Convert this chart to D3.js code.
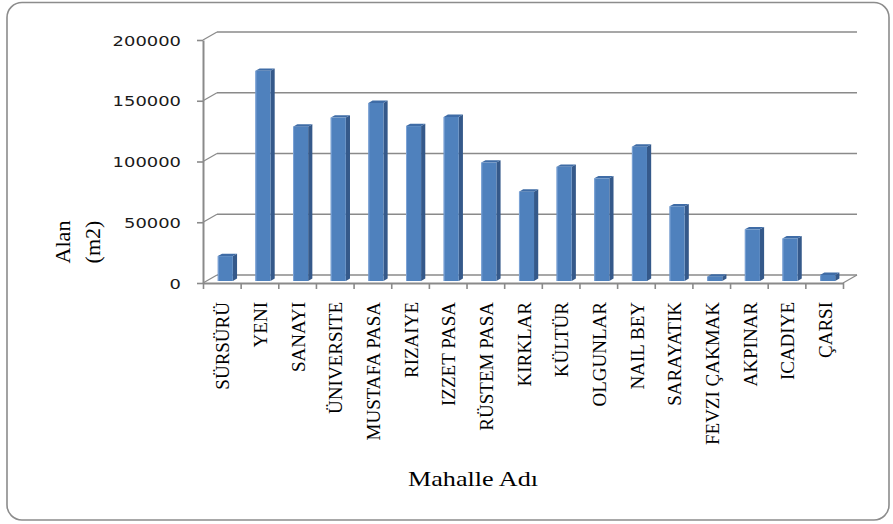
<!DOCTYPE html>
<html>
<head>
<meta charset="utf-8">
<script src="https://cdn.jsdelivr.net/npm/d3@7"></script>
<style>
  html, body { margin: 0; padding: 0; background: #ffffff; }
  svg { display: block; }
</style>
</head>
<body>
<svg id="chart" width="893" height="524"></svg>
<script>
// Neighbourhood areas (m2)
const categories = ["SÜRSÜRÜ", "YENI", "SANAYI", "ÜNIVERSITE", "MUSTAFA PASA", "RIZAIYE",
  "IZZET PASA", "RÜSTEM PASA", "KIRKLAR", "KÜLTÜR", "OLGUNLAR", "NAIL BEY",
  "SARAYATIK", "FEVZI ÇAKMAK", "AKPINAR", "ICADIYE", "ÇARSI"];
const areas = [20500, 173000, 127000, 134500, 146500, 127500,
  135000, 97500, 73500, 94000, 84500, 110500,
  61500, 3500, 42500, 35000, 5000];
const yTicks = [0, 50000, 100000, 150000, 200000];
const yTitleLines = ["Alan", "(m2)"];
const xTitle = "Mahalle Adı";

const svg = d3.select("#chart");

// Plot frame (front plane) and 3-D depth offset of the back wall
const plotLeft = 203, plotRight = 843, plotBottom = 283, plotTop = 40;
const depthX = 14, depthY = -8;

const y = d3.scaleLinear().domain([0, 200000]).range([plotBottom, plotTop]);
const x = d3.scaleBand().domain(categories).range([plotLeft, plotRight]).padding(0);
const edge = d3.scaleLinear().domain([0, categories.length]).range([plotLeft, plotRight]);

const gridColor = "#8a8a8a";

// outer rounded frame
svg.append("rect")
  .attr("x", 7).attr("y", 2.5).attr("width", 882).attr("height", 517.5)
  .attr("rx", 15).attr("ry", 15)
  .attr("fill", "#ffffff").attr("stroke", "#8c8c8c").attr("stroke-width", 1.6);

// back wall gridlines with their side-wall connectors
const grid = svg.append("g");
yTicks.forEach(v => {
  grid.append("line")
    .attr("x1", plotLeft + depthX).attr("x2", plotRight + depthX)
    .attr("y1", y(v) + depthY).attr("y2", y(v) + depthY)
    .attr("stroke", gridColor).attr("stroke-width", 1.6);
  grid.append("line")
    .attr("x1", plotLeft).attr("x2", plotLeft + depthX)
    .attr("y1", y(v)).attr("y2", y(v) + depthY)
    .attr("stroke", gridColor).attr("stroke-width", 1.3);
});

// floor: right edge
grid.append("line")
  .attr("x1", plotRight).attr("x2", plotRight + depthX)
  .attr("y1", y(0)).attr("y2", y(0) + depthY)
  .attr("stroke", gridColor).attr("stroke-width", 1.3);

// bars (3-D columns placed a quarter of the way into the depth)
const barW = x.bandwidth() * 0.4;
const off0 = 0.25, off1 = 0.55;
const bars = svg.append("g");
categories.forEach((c, i) => {
  const v = areas[i];
  const fx = x(c) + (x.bandwidth() - barW) / 2 + depthX * off0;
  const fy0 = y(0) + depthY * off0;
  const fy1 = y(v) + depthY * off0;
  const ddx = depthX * (off1 - off0), ddy = depthY * (off1 - off0);
  // side face
  bars.append("path")
    .attr("d", `M${fx + barW},${fy0} L${fx + barW + ddx},${fy0 + ddy} L${fx + barW + ddx},${fy1 + ddy} L${fx + barW},${fy1} Z`)
    .attr("fill", "#35598a");
  // top face
  bars.append("path")
    .attr("d", `M${fx},${fy1} L${fx + ddx},${fy1 + ddy} L${fx + barW + ddx},${fy1 + ddy} L${fx + barW},${fy1} Z`)
    .attr("fill", "#3f6ca6");
  // front face
  bars.append("rect")
    .attr("x", fx).attr("y", fy1).attr("width", barW).attr("height", fy0 - fy1)
    .attr("fill", "#4f81bd");
  // light left edge
  bars.append("line")
    .attr("x1", fx + 0.5).attr("x2", fx + 0.5).attr("y1", fy1).attr("y2", fy0)
    .attr("stroke", "#7da3d6").attr("stroke-width", 1);
});

// y axis
const yAxis = svg.append("g")
  .attr("transform", `translate(${plotLeft},0)`)
  .call(d3.axisLeft(y).tickValues(yTicks).tickSize(6).tickSizeOuter(0).tickPadding(16)
    .tickFormat(d3.format("d")));
yAxis.select(".domain").attr("stroke", gridColor).attr("stroke-width", 2);
yAxis.selectAll(".tick line").attr("stroke", gridColor).attr("stroke-width", 1.6);
yAxis.selectAll(".tick text")
  .attr("font-family", "'DejaVu Sans', Verdana, sans-serif")
  .attr("font-size", 14.5).attr("fill", "#1a1a1a")
  .attr("dy", "0.36em")
  .each(function () {
    const n = this.textContent.length;
    d3.select(this).attr("textLength", n * 11.4).attr("lengthAdjust", "spacingAndGlyphs");
  });

// x axis: ticks on category boundaries
const xAxis = svg.append("g")
  .attr("transform", `translate(0,${plotBottom})`)
  .call(d3.axisBottom(edge).tickValues(d3.range(categories.length + 1))
    .tickSize(6).tickSizeOuter(0).tickFormat(""));
xAxis.select(".domain").attr("stroke", gridColor).attr("stroke-width", 2);
xAxis.selectAll(".tick line").attr("stroke", gridColor).attr("stroke-width", 1.6);

// category labels, rotated
svg.append("g").selectAll("text")
  .data(categories)
  .join("text")
  .attr("transform", d => `translate(${x(d) + x.bandwidth() / 2 + 1},302) rotate(-90)`)
  .attr("text-anchor", "end")
  .attr("dy", "0.35em")
  .attr("font-family", "'Liberation Serif', 'Times New Roman', serif")
  .attr("font-size", 19)
  .attr("fill", "#000")
  .text(d => d);

// axis titles
const serif = "'Liberation Serif', 'Times New Roman', serif";
svg.append("g").selectAll("text")
  .data(yTitleLines)
  .join("text")
  .attr("transform", (d, i) => `translate(${62 + i * 30},242) rotate(-90)`)
  .attr("text-anchor", "middle")
  .attr("dy", "0.35em")
  .attr("font-family", serif)
  .attr("font-size", 22)
  .attr("fill", "#000")
  .text(d => d);

svg.append("text")
  .attr("x", 473).attr("y", 478)
  .attr("text-anchor", "middle")
  .attr("dy", "0.35em")
  .attr("font-family", serif)
  .attr("font-size", 22)
  .attr("textLength", 130).attr("lengthAdjust", "spacingAndGlyphs")
  .attr("fill", "#000")
  .text(xTitle);
</script>
</body>
</html>
